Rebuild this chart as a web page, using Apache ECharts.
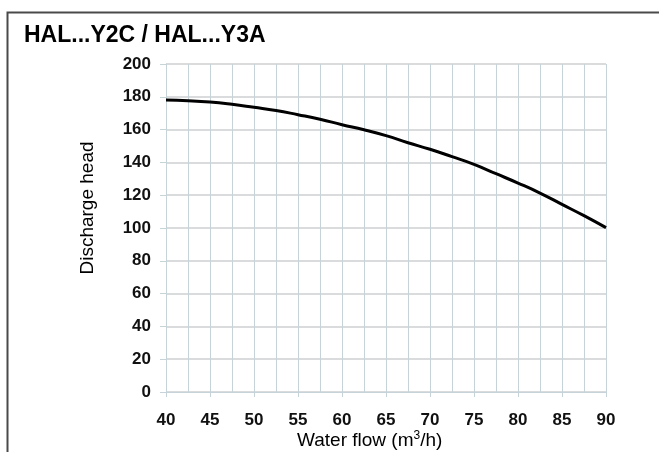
<!DOCTYPE html>
<html>
<head>
<meta charset="utf-8">
<script src="https://cdn.jsdelivr.net/npm/echarts@6/dist/echarts.min.js"></script>
<style>
html,body{margin:0;padding:0;background:#fff;}
#chart{width:659px;height:452px;}
</style>
</head>
<body>
<div id="chart"></div>
<script>
var titleText = 'HAL...Y2C / HAL...Y3A';
var xAxisName = 'Water flow';
var yAxisName = 'Discharge head';
var flow = [40, 42.5, 45, 47.5, 50, 52.5, 55, 57.5, 60, 62.5, 65, 67.5, 70, 72.5, 75, 77.5, 80, 82.5, 85, 87.5, 90];
var head = [178.0, 177.6, 176.8, 175.4, 173.6, 171.7, 169.1, 166.3, 163.0, 159.9, 156.3, 152.0, 148.0, 143.5, 138.8, 133.1, 127.4, 121.3, 114.4, 107.5, 100.2];

var chart = echarts.init(document.getElementById('chart'), null, {renderer: 'canvas'});
var gridColor = '#c6d3d9';
var pts = flow.map(function (f, i) { return [f, head[i]]; });

chart.setOption({
  animation: false,
  backgroundColor: '#ffffff',
  graphic: [
    {type: 'rect', left: 5, top: 10, shape: {width: 720, height: 520},
     style: {fill: 'none', stroke: '#4a4a4a', lineWidth: 2}, z: 0},
    {type: 'text', left: 24, top: 24,
     style: {text: titleText, font: 'bold 23px "Liberation Sans", Arial, sans-serif', fill: '#000'}},
    {type: 'text', left: 297, top: 430,
     style: {
       text: xAxisName + ' (m{sup|3}/h)',
       font: '19px "Liberation Sans", Arial, sans-serif', fill: '#000',
       rich: {sup: {fontSize: 12, fontFamily: '"Liberation Sans", Arial, sans-serif', padding: [0, 0, 10, 0], fill: '#000'}}
     }},
    {type: 'text', x: 88, y: 208, rotation: Math.PI / 2,
     style: {text: yAxisName, font: '19px "Liberation Sans", Arial, sans-serif', fill: '#000',
             align: 'center', verticalAlign: 'middle'}}
  ],
  grid: {left: 166, top: 64, width: 440, height: 328, containLabel: false},
  xAxis: {
    type: 'value', min: 40, max: 90, interval: 5,
    axisLine: {show: true, lineStyle: {color: gridColor, width: 1}},
    axisTick: {show: true, length: 5, lineStyle: {color: gridColor}},
    axisLabel: {color: '#111', fontWeight: 'bold', fontSize: 17, margin: 20,
                fontFamily: '"Liberation Sans", Arial, sans-serif'},
    splitLine: {show: true, lineStyle: {color: gridColor, width: 1}},
    minorTick: {show: false, splitNumber: 2},
    minorSplitLine: {show: true, lineStyle: {color: gridColor, width: 1}}
  },
  yAxis: {
    type: 'value', min: 0, max: 200, interval: 20,
    axisLine: {show: true, lineStyle: {color: gridColor, width: 1}},
    axisTick: {show: true, length: 6, lineStyle: {color: gridColor}},
    axisLabel: {color: '#111', fontWeight: 'bold', fontSize: 17, margin: 15,
                fontFamily: '"Liberation Sans", Arial, sans-serif'},
    splitLine: {show: true, lineStyle: {color: '#cccfd0', width: 1.5}}
  },
  series: [{
    type: 'line', data: pts, smooth: true, showSymbol: false,
    lineStyle: {color: '#000', width: 3}, z: 5
  }]
});
</script>
</body>
</html>
